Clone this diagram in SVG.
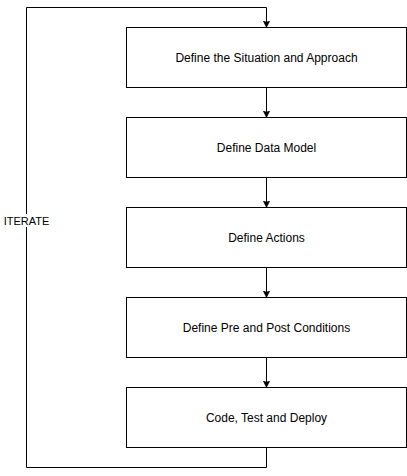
<svg xmlns="http://www.w3.org/2000/svg" width="407" height="476" viewBox="0 0 407 476">
<style>
.box{fill:#ffffff;stroke:#000000;stroke-width:1}
.lbl{font-family:"Liberation Sans",Arial,Helvetica,sans-serif;font-size:12px;fill:#000000;text-anchor:middle}
.edge{fill:none;stroke:#000000;stroke-width:1}
.elbl{font-family:"Liberation Sans",Arial,Helvetica,sans-serif;font-size:11px;fill:#000000;text-anchor:middle}
</style>
<defs>
<marker id="arr" markerUnits="userSpaceOnUse" markerWidth="8" markerHeight="8" refX="7" refY="3.5" orient="auto">
<path d="M0,0 L7,3.5 L0,7 L1.75,3.5 Z" fill="#000000" stroke="#000000" stroke-width="0.5"/>
</marker>
</defs>
<rect width="407" height="476" fill="#ffffff"/>
<g id="connectors">
<path class="edge" d="M266.5,87.5 L266.5,117.5" marker-end="url(#arr)"/>
<path class="edge" d="M266.5,177.5 L266.5,207.5" marker-end="url(#arr)"/>
<path class="edge" d="M266.5,267.5 L266.5,297.5" marker-end="url(#arr)"/>
<path class="edge" d="M266.5,357.5 L266.5,387.5" marker-end="url(#arr)"/>
<path class="edge" d="M266.5,447.5 L266.5,467.5 L26.5,467.5 L26.5,7.5 L266.5,7.5 L266.5,27.5" marker-end="url(#arr)"/>
<rect x="2" y="214" width="49" height="13" fill="#ffffff"/>
<text class="elbl" x="26.5" y="224.5">ITERATE</text>
</g>
<g id="node1">
<rect class="box" x="126.5" y="27.5" width="280" height="60"/>
<text class="lbl" x="266.5" y="62">Define the Situation and Approach</text>
</g>
<g id="node2">
<rect class="box" x="126.5" y="117.5" width="280" height="60"/>
<text class="lbl" x="266.5" y="152">Define Data Model</text>
</g>
<g id="node3">
<rect class="box" x="126.5" y="207.5" width="280" height="60"/>
<text class="lbl" x="266.5" y="242">Define Actions</text>
</g>
<g id="node4">
<rect class="box" x="126.5" y="297.5" width="280" height="60"/>
<text class="lbl" x="266.5" y="332">Define Pre and Post Conditions</text>
</g>
<g id="node5">
<rect class="box" x="126.5" y="387.5" width="280" height="60"/>
<text class="lbl" x="266.5" y="422">Code, Test and Deploy</text>
</g>
</svg>
